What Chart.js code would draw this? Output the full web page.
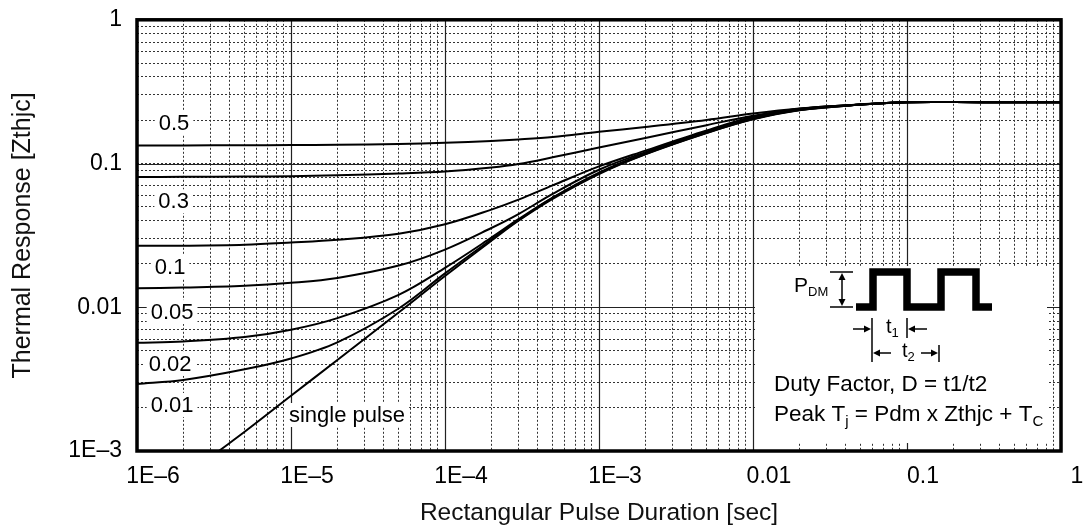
<!DOCTYPE html>
<html lang="en">
<head>
<meta charset="utf-8">
<title>Thermal Response</title>
<script src="https://cdn.jsdelivr.net/npm/chart.js@4.4.1/dist/chart.umd.min.js"></script>
<style>
    html, body { margin: 0; padding: 0; background: #fff; }
</style>
</head>
<body>
<canvas id="zthChart" width="1089" height="528"></canvas>
<script>
(function () {
    'use strict';

    // pulse durations [sec] shared by the duty-cycle curves
    var pulseDuration = [1e-6, 2e-6, 5e-6, 1e-5, 2e-5, 5e-5, 1e-4, 2e-4, 3e-4, 5e-4, 1e-3, 2e-3, 5e-3, 1e-2, 2e-2, 5e-2, 0.1, 0.3, 1];
    var zthD50 = [0.1334, 0.1336, 0.134, 0.1345, 0.1352, 0.1368, 0.1394, 0.1435, 0.147, 0.153, 0.1663, 0.1796, 0.201, 0.223, 0.2416, 0.2577, 0.2674, 0.2674, 0.2674];
    var zthD30 = [0.0805, 0.0808, 0.0812, 0.0816, 0.0829, 0.0852, 0.0879, 0.0938, 0.0992, 0.1105, 0.1293, 0.1505, 0.1849, 0.215, 0.241, 0.2575, 0.2674, 0.2674, 0.2674];
    var zthD10 = [0.0268, 0.0268, 0.0272, 0.0282, 0.0295, 0.0325, 0.0378, 0.0478, 0.0561, 0.0705, 0.0955, 0.123, 0.17, 0.212, 0.24, 0.2575, 0.2674, 0.2674, 0.2674];
    var zthD05 = [0.01356, 0.0137, 0.0141, 0.0148, 0.016, 0.0195, 0.0252, 0.0356, 0.0445, 0.0615, 0.0905, 0.12, 0.167, 0.21, 0.239, 0.2575, 0.2674, 0.2674, 0.2674];
    var zthD02 = [0.00566, 0.00578, 0.0062, 0.00697, 0.0084, 0.0122, 0.0188, 0.0305, 0.041, 0.058, 0.0865, 0.118, 0.165, 0.205, 0.236, 0.257, 0.2674, 0.2674, 0.2674];
    var zthD01 = [0.00293, 0.00312, 0.0037, 0.0044, 0.0057, 0.0098, 0.0172, 0.0296, 0.0403, 0.0576, 0.0855, 0.1165, 0.1635, 0.204, 0.2355, 0.257, 0.2674, 0.2674, 0.2674];

    var singleDuration = [3.4e-6, 5e-6, 1e-5, 2e-5, 5e-5, 1e-4, 2e-4, 3e-4, 5e-4, 1e-3, 2e-3, 5e-3, 1e-2, 2e-2, 5e-2, 0.1, 0.3, 1];
    var zthSingle = [0.001, 0.00136, 0.00242, 0.0043, 0.0092, 0.0165, 0.029, 0.04, 0.0568, 0.0845, 0.1158, 0.163, 0.203, 0.235, 0.257, 0.2674, 0.2674, 0.2674];

    var curveLabels = ['0.5', '0.3', '0.1', '0.05', '0.02', '0.01', 'single pulse'];
    var curveLabelX = [1.74e-6, 1.73e-6, 1.64e-6, 1.69e-6, 1.64e-6, 1.69e-6, 2.31e-5];
    var curveLabelY = [0.192, 0.0546, 0.0191, 0.00926, 0.00404, 0.00209, 0.00178];

    var xTickValues = [1e-6, 1e-5, 1e-4, 1e-3, 1e-2, 0.1, 1];
    var xTickLabels = ['1E\u20136', '1E\u20135', '1E\u20134', '1E\u20133', '0.01', '0.1', '1'];
    var yTickValues = [1e-3, 0.01, 0.1, 1];
    var yTickLabels = ['1E\u20133', '0.01', '0.1', '1'];

    var FONT = '"Liberation Sans", Arial, Helvetica, sans-serif';

    function toPoints(xs, ys) {
        return xs.map(function (x, i) { return { x: x, y: ys[i] }; });
    }

    function curve(xs, ys) {
        return {
            data: toPoints(xs, ys),
            borderColor: '#000',
            borderWidth: 2,
            pointRadius: 0,
            fill: false,
            tension: 0.35
        };
    }

    // 1..9 per decade, no 1.5 steps
    function decadeTicks(scale) {
        var ticks = [];
        var e0 = Math.round(Math.log10(scale.min));
        var e1 = Math.round(Math.log10(scale.max));
        for (var e = e0; e < e1; e++) {
            for (var m = 1; m < 10; m++) {
                ticks.push({ value: Number((m * Math.pow(10, e)).toPrecision(6)) });
            }
        }
        ticks.push({ value: Math.pow(10, e1) });
        scale.ticks = ticks;
    }

    function labelFor(values, labels) {
        return function (value) {
            for (var i = 0; i < values.length; i++) {
                if (Math.abs(Math.log10(value / values[i])) < 1e-6) { return labels[i]; }
            }
            return '';
        };
    }

    function arrowHead(ctx, x, y, dx, dy) {
        // tip at (x, y), pointing along (dx, dy)
        var len = 7, half = 3.5;
        ctx.beginPath();
        ctx.moveTo(x, y);
        ctx.lineTo(x - dx * len - dy * half, y - dy * len + dx * half);
        ctx.lineTo(x - dx * len + dy * half, y - dy * len - dx * half);
        ctx.closePath();
        ctx.fill();
    }

    function line(ctx, x1, y1, x2, y2) {
        ctx.beginPath();
        ctx.moveTo(x1, y1);
        ctx.lineTo(x2, y2);
        ctx.stroke();
    }

    function subText(ctx, parts, x, y, size, subSize) {
        parts.forEach(function (p) {
            var isSub = p[1];
            ctx.font = (isSub ? subSize : size) + 'px ' + FONT;
            ctx.fillText(p[0], x, isSub ? y + size * 0.3 : y);
            x += ctx.measureText(p[0]).width;
        });
    }

    var decorations = {
        id: 'decorations',
        beforeDatasetsDraw: function (chart) {
            var ctx = chart.ctx;
            var ca = chart.chartArea;
            var xs = chart.scales.x;
            var ys = chart.scales.y;
            ctx.save();

            // solid decade lines over the dotted grid
            ctx.strokeStyle = '#222';
            ctx.lineWidth = 1.2;
            xTickValues.forEach(function (v) {
                var px = Math.round(xs.getPixelForValue(v)) + 0.5;
                line(ctx, px, ca.top, px, ca.bottom);
            });
            yTickValues.forEach(function (v) {
                var py = Math.round(ys.getPixelForValue(v)) + 0.5;
                line(ctx, ca.left, py, ca.right, py);
            });

            // blank panel for the inset
            ctx.fillStyle = '#fff';
            ctx.fillRect(ca.right - 306, ca.bottom - 185, 292, 177);

            // curve labels on white
            ctx.font = '22px ' + FONT;
            ctx.textAlign = 'center';
            ctx.textBaseline = 'middle';
            curveLabels.forEach(function (txt, i) {
                var px = xs.getPixelForValue(curveLabelX[i]);
                var py = ys.getPixelForValue(curveLabelY[i]);
                var w = ctx.measureText(txt).width;
                ctx.fillStyle = '#fff';
                ctx.fillRect(px - w / 2 - 4, py - 12, w + 8, 24);
                ctx.fillStyle = '#000';
                ctx.fillText(txt, px, py + 1);
            });
            ctx.restore();
        },
        afterDraw: function (chart) {
            var ctx = chart.ctx;
            var ca = chart.chartArea;
            var ox = ca.right;
            var oy = ca.bottom;
            ctx.save();
            ctx.strokeStyle = '#000';
            ctx.fillStyle = '#000';

            // frame
            ctx.lineWidth = 3.5;
            ctx.strokeRect(ca.left, ca.top, ca.right - ca.left, ca.bottom - ca.top);

            // pulse train
            ctx.lineWidth = 7.5;
            ctx.lineJoin = 'miter';
            ctx.beginPath();
            ctx.moveTo(ox - 205, oy - 144);
            ctx.lineTo(ox - 188, oy - 144);
            ctx.lineTo(ox - 188, oy - 179);
            ctx.lineTo(ox - 154, oy - 179);
            ctx.lineTo(ox - 154, oy - 144);
            ctx.lineTo(ox - 120, oy - 144);
            ctx.lineTo(ox - 120, oy - 179);
            ctx.lineTo(ox - 85, oy - 179);
            ctx.lineTo(ox - 85, oy - 144);
            ctx.lineTo(ox - 69, oy - 144);
            ctx.stroke();

            // P_DM dimension
            ctx.lineWidth = 1.5;
            line(ctx, ox - 231, oy - 179, ox - 208, oy - 179);
            line(ctx, ox - 231, oy - 144, ox - 208, oy - 144);
            line(ctx, ox - 219, oy - 172, ox - 219, oy - 151);
            arrowHead(ctx, ox - 219, oy - 178, 0, -1);
            arrowHead(ctx, ox - 219, oy - 145, 0, 1);

            // t1 / t2 dimensions
            line(ctx, ox - 189, oy - 133, ox - 189, oy - 89);
            line(ctx, ox - 154, oy - 133, ox - 154, oy - 113);
            line(ctx, ox - 122, oy - 106, ox - 122, oy - 89);
            line(ctx, ox - 208, oy - 122, ox - 195, oy - 122);
            arrowHead(ctx, ox - 190, oy - 122, 1, 0);
            line(ctx, ox - 134, oy - 122, ox - 147, oy - 122);
            arrowHead(ctx, ox - 153, oy - 122, -1, 0);
            line(ctx, ox - 170, oy - 98, ox - 182, oy - 98);
            arrowHead(ctx, ox - 188, oy - 98, -1, 0);
            line(ctx, ox - 140, oy - 98, ox - 128, oy - 98);
            arrowHead(ctx, ox - 123, oy - 98, 1, 0);

            ctx.textAlign = 'left';
            ctx.textBaseline = 'middle';
            subText(ctx, [['P', false], ['DM', true]], ox - 267, oy - 165, 21, 13);
            subText(ctx, [['t', false], ['1', true]], ox - 175, oy - 124, 20, 13);
            subText(ctx, [['t', false], ['2', true]], ox - 159, oy - 100, 20, 13);
            subText(ctx, [['Duty Factor, D = t1/t2', false]], ox - 287, oy - 66, 22.5, 15);
            subText(ctx, [['Peak T', false], ['j', true], [' = Pdm x Zthjc + T', false], ['C', true]], ox - 287, oy - 36, 22.5, 15);
            ctx.restore();
        }
    };

    var canvas = document.getElementById('zthChart');
    new Chart(canvas, {
        type: 'line',
        data: {
            datasets: [
                curve(pulseDuration, zthD50),
                curve(pulseDuration, zthD30),
                curve(pulseDuration, zthD10),
                curve(pulseDuration, zthD05),
                curve(pulseDuration, zthD02),
                curve(pulseDuration, zthD01),
                curve(singleDuration, zthSingle)
            ]
        },
        options: {
            responsive: false,
            animation: false,
            devicePixelRatio: 1,
            layout: { padding: { top: 12, right: 28, left: 0, bottom: 0 } },
            plugins: { legend: { display: false }, tooltip: { enabled: false } },
            scales: {
                x: {
                    type: 'logarithmic',
                    min: 1e-6,
                    max: 1,
                    afterBuildTicks: decadeTicks,
                    afterFit: function (scale) { scale.height = 77; },
                    grid: { color: '#333', lineWidth: 1, drawTicks: false },
                    border: { display: false, dash: [2, 2] },
                    ticks: {
                        autoSkip: false,
                        maxRotation: 0,
                        padding: 12,
                        labelOffset: 16,
                        color: '#000',
                        font: { family: FONT, size: 23 },
                        callback: labelFor(xTickValues, xTickLabels)
                    },
                    title: {
                        display: true,
                        text: 'Rectangular Pulse Duration [sec]',
                        color: '#111',
                        font: { family: FONT, size: 24.5 },
                        padding: { top: 0, bottom: 0 }
                    }
                },
                y: {
                    type: 'logarithmic',
                    min: 1e-3,
                    max: 1,
                    afterBuildTicks: decadeTicks,
                    afterFit: function (scale) { scale.width = 137; },
                    grid: { color: '#333', lineWidth: 1, drawTicks: true, tickLength: 9, tickColor: 'rgba(0,0,0,0)' },
                    border: { display: false, dash: [2, 2] },
                    ticks: {
                        autoSkip: false,
                        padding: 6,
                        color: '#000',
                        font: { family: FONT, size: 23 },
                        callback: labelFor(yTickValues, yTickLabels)
                    },
                    title: {
                        display: true,
                        text: 'Thermal Response [Zthjc]',
                        color: '#111',
                        font: { family: FONT, size: 25 },
                        padding: { top: 8, bottom: 0 }
                    }
                }
            }
        },
        plugins: [decorations]
    });
}());
</script>
</body>
</html>
